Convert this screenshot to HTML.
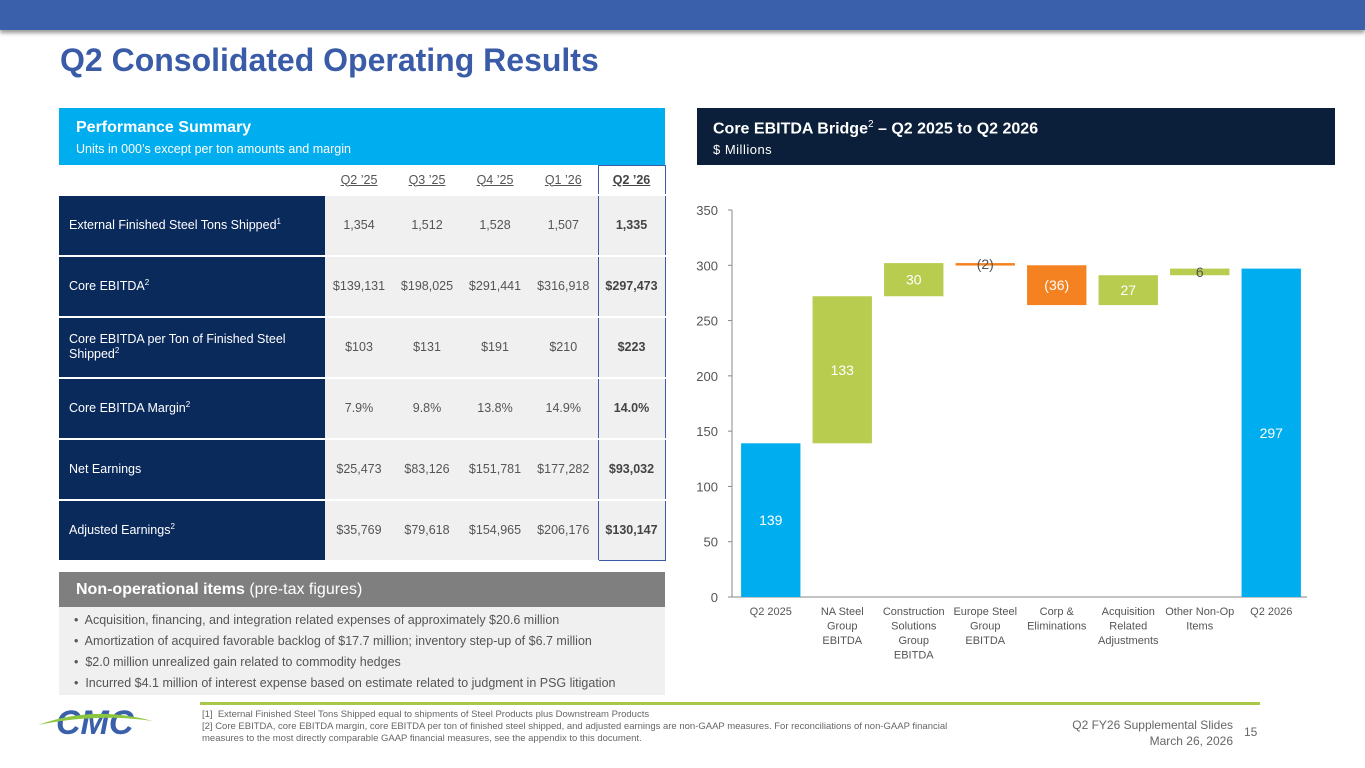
<!DOCTYPE html>
<html><head><meta charset="utf-8"><style>
body{margin:0;width:1365px;height:768px;overflow:hidden;background:#fff;font-family:"Liberation Sans",sans-serif;position:relative}
.abs{position:absolute}
table{border-collapse:collapse;table-layout:fixed;width:606px}
.tbl td{font-size:12.5px;color:#555;text-align:center;height:59px;padding:0;border-bottom:2px solid #fff;box-sizing:border-box}
.tbl td.lab{background:#0b2a5c;color:#fff;text-align:left;padding-left:10px}
.tbl td.v{background:#f0f0f0;font-size:12.5px}
.tbl td.last{font-weight:bold;color:#444;border-left:1px solid #3a5ba8;border-right:1px solid #3a5ba8}
sup{font-size:8px}
.bul{font-size:12.5px;color:#555;line-height:21px}
</style></head><body>
<div class="abs" style="left:0;top:0;width:1365px;height:30px;background:#3a5fab;box-shadow:0 3px 4px rgba(0,0,0,.4)"></div>
<div class="abs" style="left:60px;top:42px;font-size:32px;font-weight:bold;color:#3a5ba8">Q2 Consolidated Operating Results</div>

<div class="abs" style="left:59px;top:108px;width:606px;height:57px;background:#00aeef;color:#fff">
<div style="position:absolute;left:17px;top:11px;font-size:16px;font-weight:bold">Performance Summary</div>
<div style="position:absolute;left:17px;top:34px;font-size:12.5px">Units in 000’s except per ton amounts and margin</div></div>
<div class="abs" style="left:59px;top:165px">
<table class="tbl">
<colgroup><col style="width:266px"><col style="width:68px"><col style="width:68px"><col style="width:68px"><col style="width:69px"><col style="width:67px"></colgroup>
<tr><td style="height:29px"></td><td style="height:29px;text-decoration:underline">Q2 ’25</td><td style="height:29px;text-decoration:underline">Q3 ’25</td><td style="height:29px;text-decoration:underline">Q4 ’25</td><td style="height:29px;text-decoration:underline">Q1 ’26</td><td class="last" style="height:29px;text-decoration:underline;border-top:1px solid #3a5ba8">Q2 ’26</td></tr>
<tr><td class="lab" style="height:61px">External Finished Steel Tons Shipped<sup>1</sup></td><td class="v">1,354</td><td class="v">1,512</td><td class="v">1,528</td><td class="v">1,507</td><td class="v last">1,335</td></tr>
<tr><td class="lab" style="height:61px">Core EBITDA<sup>2</sup></td><td class="v">$139,131</td><td class="v">$198,025</td><td class="v">$291,441</td><td class="v">$316,918</td><td class="v last">$297,473</td></tr>
<tr><td class="lab" style="height:61px">Core EBITDA per Ton of Finished Steel Shipped<sup>2</sup></td><td class="v">$103</td><td class="v">$131</td><td class="v">$191</td><td class="v">$210</td><td class="v last">$223</td></tr>
<tr><td class="lab" style="height:61px">Core EBITDA Margin<sup>2</sup></td><td class="v">7.9%</td><td class="v">9.8%</td><td class="v">13.8%</td><td class="v">14.9%</td><td class="v last">14.0%</td></tr>
<tr><td class="lab" style="height:61px">Net Earnings</td><td class="v">$25,473</td><td class="v">$83,126</td><td class="v">$151,781</td><td class="v">$177,282</td><td class="v last">$93,032</td></tr>
<tr><td class="lab" style="height:61px">Adjusted Earnings<sup>2</sup></td><td class="v">$35,769</td><td class="v">$79,618</td><td class="v">$154,965</td><td class="v">$206,176</td><td class="v last" style="border-bottom:1px solid #3a5ba8">$130,147</td></tr>
</table></div>

<div class="abs" style="left:59px;top:572px;width:606px;height:35px;background:#7f7f7f;color:#fff;font-size:16px;line-height:35px"><span style="padding-left:17px;font-weight:bold">Non-operational items</span> (pre-tax figures)</div>
<div class="abs bul" style="left:59px;top:607px;width:606px;height:88px;background:#f0f0f0;padding:3px 0 0 15px;box-sizing:border-box">
<div>•&nbsp; Acquisition, financing, and integration related expenses of approximately $20.6 million</div>
<div>•&nbsp; Amortization of acquired favorable backlog of $17.7 million; inventory step-up of $6.7 million</div>
<div>•&nbsp; $2.0 million unrealized gain related to commodity hedges</div>
<div>•&nbsp; Incurred $4.1 million of interest expense based on estimate related to judgment in PSG litigation</div></div>

<div class="abs" style="left:697px;top:108px;width:638px;height:57px;background:#0b1f3a;color:#fff">
<div style="position:absolute;left:16px;top:11px;font-size:16px;font-weight:bold">Core EBITDA Bridge<sup style="font-weight:normal;font-size:10px">2</sup> – Q2 2025 to Q2 2026</div>
<div style="position:absolute;left:16px;top:34px;font-size:13px;letter-spacing:.5px">$ Millions</div></div>

<svg class="abs" style="left:0;top:0" width="1365" height="768" id="chart"></svg>

<div class="abs" style="left:200px;top:702px;width:1060px;height:3px;background:#a9c84a"></div>
<div class="abs" style="left:38px;top:703px;width:120px;height:36px">
<svg width="120" height="36"><text x="18" y="31" font-family="Liberation Sans" font-weight="bold" font-style="italic" font-size="34" fill="#3a5fab">CMC</text><path d="M0 22 Q55 2 115 18 Q60 10 0 22Z" fill="#8cc63f"/></svg></div>
<div class="abs" style="left:202px;top:709px;font-size:9.5px;color:#666;line-height:12px;width:760px">[1]&nbsp; External Finished Steel Tons Shipped equal to shipments of Steel Products plus Downstream Products<br>[2] Core EBITDA, core EBITDA margin, core EBITDA per ton of finished steel shipped, and adjusted earnings are non-GAAP measures. For reconciliations of non-GAAP financial measures to the most directly comparable GAAP financial measures, see the appendix to this document.</div>
<div class="abs" style="left:1030px;top:717px;width:203px;text-align:right;font-size:12px;color:#666;line-height:16px">Q2 FY26 Supplemental Slides<br>March 26, 2026</div>
<div class="abs" style="left:1244px;top:725px;font-size:12px;color:#666">15</div>

<script>
const categories=["Q2 2025","NA Steel|Group|EBITDA","Construction|Solutions|Group|EBITDA","Europe Steel|Group|EBITDA","Corp &|Eliminations","Acquisition|Related|Adjustments","Other Non-Op|Items","Q2 2026"];
const deltas=[139,133,30,-2,-36,27,6,297];
const labels=["139","133","30","(2)","(36)","27","6","297"];
const kinds=["total","step","step","step","step","step","step","total"];
const yTicks=[0,50,100,150,200,250,300,350];
const svg=document.getElementById('chart');const NS="http://www.w3.org/2000/svg";
const y0=597,yTop=210,yMax=350,axisX=732,x0=735,x1=1307;
const Y=v=>y0-(v/yMax)*(y0-yTop);
const bw=(x1-x0)/categories.length;
const X=i=>x0+bw*(i+0.5);
function mk(t,a){const e=document.createElementNS(NS,t);for(const k in a)e.setAttribute(k,a[k]);svg.appendChild(e);return e;}
let ax=mk('line',{x1:axisX,y1:yTop,x2:axisX,y2:y0,stroke:'#888'});
let bx=mk('line',{x1:axisX,y1:y0,x2:x1,y2:y0,stroke:'#888'});
yTicks.forEach(v=>{mk('line',{x1:axisX-4,y1:Y(v),x2:axisX,y2:Y(v),stroke:'#888'});
const t=mk('text',{x:axisX-14,y:Y(v)+5,'text-anchor':'end','font-size':13,fill:'#555','font-family':'Liberation Sans'});t.textContent=v;
});
let run=0;
deltas.forEach((d,i)=>{let lo,hi,col;
if(kinds[i]==='total'){lo=0;hi=d;run=d;col='#00aeef';}
else{const s=run;run+=d;lo=Math.min(s,run);hi=Math.max(s,run);col=d<0?'#f58220':'#b8cc4f';}
const w=bw*0.83;
const r=mk('rect',{x:X(i)-w/2,y:Y(hi),width:w,height:Math.max(2.5,Y(lo)-Y(hi)),fill:col});

const mid=(Y(lo)+Y(hi))/2;
const t=mk('text',{x:X(i),y:mid+5,'text-anchor':'middle','font-size':14,fill:Math.abs(d)<10?'#555':'#fff','font-family':'Liberation Sans'});t.textContent=labels[i];

categories[i].split('|').forEach((ln,j)=>{const c=mk('text',{x:X(i),y:615+j*14.5,'text-anchor':'middle','font-size':11,fill:'#555','font-family':'Liberation Sans'});c.textContent=ln;
});
});
</script>
</body></html>
